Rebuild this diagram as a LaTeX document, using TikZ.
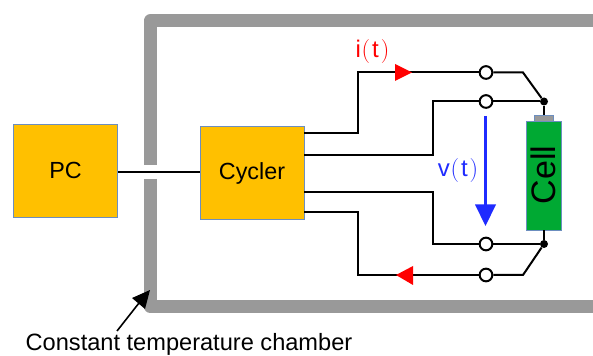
\documentclass[tikz,border=0pt]{standalone}
\usepackage{fontspec}
\setmainfont{Liberation Sans}
\newfontfamily\thinfont{Latin Modern Roman}
\definecolor{boxorange}{HTML}{FFC000}
\definecolor{boxedge}{HTML}{6C8EBF}
\definecolor{cellgreen}{HTML}{00A933}
\definecolor{wallgray}{HTML}{999999}
\definecolor{volt}{HTML}{1F2BFF}
\tikzset{
  x=0.75pt,y=-0.75pt,
  block/.style={draw=boxedge,line width=0.6pt,fill=boxorange,inner sep=0pt,minimum width=78pt,font=\fontsize{17.5}{20}\selectfont},
  wall/.style={draw=wallgray,line width=9.75pt,line join=round},
  wire/.style={draw=black,line width=1.5pt,line join=miter},
  terminal/.style={circle,draw=black,fill=white,line width=1.5pt,minimum size=9.5pt,inner sep=0pt},
  junction/.style={circle,fill=black,minimum size=6pt,inner sep=0pt},
  redhead/.style={fill=red},
}
\begin{document}
\begin{tikzpicture}
\useasboundingbox (0,0) rectangle (593,356);
% chamber
\draw[wall] (593,21) -- (150,21) -- (150,165);
\draw[wall] (150,179) -- (150,306.5) -- (593,306.5);
% blocks
\node[block,minimum height=69.5pt] (pc) at (65.5,170.8) {PC};
\node[block,minimum height=69.5pt] (cycler) at (252,173) {Cycler};
% cell
\node[draw=boxedge,line width=0.6pt,fill=wallgray,minimum width=14.2pt,minimum height=4.5pt,inner sep=0pt] (cap) at (543.5,118.5) {};
\node[draw=boxedge,line width=0.6pt,fill=cellgreen,minimum width=26.2pt,minimum height=81.7pt,inner sep=0pt] (cell) at (544,175.5) {};
\node[rotate=90,font=\fontsize{25.5}{28}\selectfont,inner sep=0pt] (celltext) at (543.5,175) {Cell};
% terminals and junctions
\node[terminal] (t1) at (486,72.5) {};
\node[terminal] (t2) at (486,101.5) {};
\node[terminal] (t3) at (486,244) {};
\node[terminal] (t4) at (486,275) {};
\node[junction] (jt) at (544,101.5) {};
\node[junction] (jb) at (544,244) {};
% bend coordinates
\coordinate (c1) at (304,133);
\coordinate (c2) at (304,155);
\coordinate (c3) at (304,192.5);
\coordinate (c4) at (304,212.5);
\coordinate (k1) at (523,72.5);
\coordinate (k4) at (523,275);
\coordinate (h1) at (412,72.5);
\coordinate (h4) at (396,275);
% wires
\draw[wire] (pc.east |- 0,172) -- (cycler.west |- 0,172);
\draw[wire] (c1) -- (358,133) -- (358,72.5) -- (t1);
\draw[wire] (t1) -- (k1) -- (jt);
\draw[wire] (c2) -- (432.5,155) -- (432.5,101.5) -- (t2);
\draw[wire] (t2) -- (jt);
\draw[wire] (jt) -- (cap.north -| jt);
\draw[wire] (cell.south -| jb) -- (jb);
\draw[wire] (c3) -- (432.5,192.5) -- (432.5,244) -- (t3);
\draw[wire] (t3) -- (jb);
\draw[wire] (c4) -- (358,212.5) -- (358,275) -- (t4);
\draw[wire] (t4) -- (k4) -- (jb);
% red arrowheads
\fill[redhead] (h1) -- (395,64) -- (395,81) -- cycle;
\fill[redhead] (h4) -- (413,266) -- (413,285) -- cycle;
% voltage arrow
\coordinate (v1) at (485.5,116);
\coordinate (v2) at (485.5,226);
\draw[draw=volt,line width=1.6pt] (v1) -- (485.5,206);
\fill[volt] (v2) -- (475,204.5) -- (496,204.5) -- cycle;
% labels
\node[text=red,font=\fontsize{18}{20}\selectfont,inner sep=0pt] (il) at (372.5,52) {i\kern0.5pt{\thinfont(}\kern1.5pt t\kern1.5pt{\thinfont)}};
\node[text=volt,font=\fontsize{18}{20}\selectfont,inner sep=0pt] (vl) at (458,171) {v\kern0.5pt{\thinfont(}\kern1.5pt t\kern1.5pt{\thinfont)}};
% caption
\node[font=\fontsize{17.7}{20}\selectfont,inner sep=0pt] (cap2) at (189,344.5) {Constant temperature chamber};
\coordinate (a1) at (117,331);
\coordinate (a2) at (150,290);
\draw[line width=1.2pt] (a1) -- (139,303);
\fill[black] (a2) -- (132,298) -- (145,309) -- cycle;
\end{tikzpicture}
\end{document}
